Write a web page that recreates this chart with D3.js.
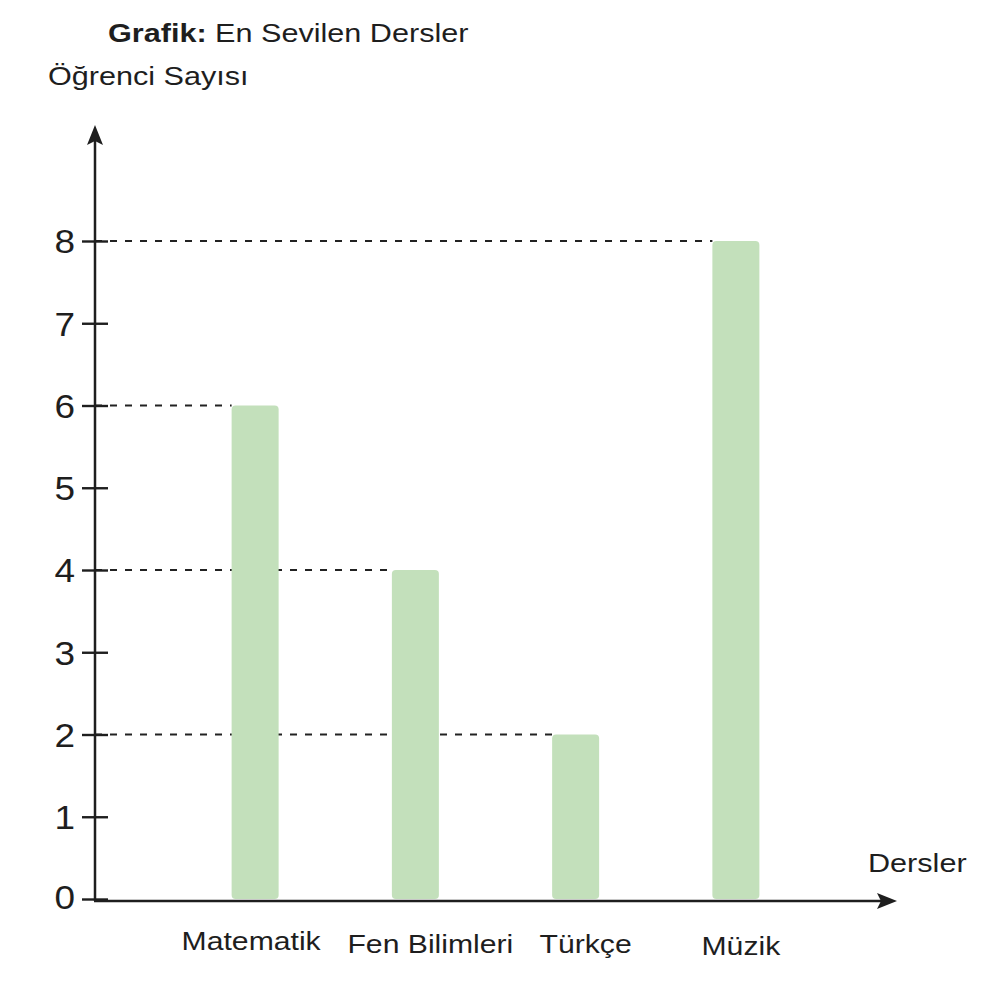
<!DOCTYPE html>
<html>
<head>
<meta charset="utf-8">
<script src="https://cdn.jsdelivr.net/npm/d3@7"></script>
<style>
  body { margin: 0; background: #fff; }
  text { font-family: "Liberation Sans", Arial, sans-serif; fill: #1e1e1e; }
</style>
</head>
<body>
<svg id="chart" width="999" height="994"></svg>
<script>
// data
const categories = ["Matematik", "Fen Bilimleri", "Türkçe", "Müzik"];
const values = [6, 4, 2, 8];
const yTicks = [0, 1, 2, 3, 4, 5, 6, 7, 8];

const svg = d3.select("#chart");
const stretch = 1.2; // the picture is a little wider than normal type
// labels under the bars are not quite centred in the original
const labelShift = [-4, 15, 10, 5];
const labelBase = [950, 953, 953, 955];

const x = d3.scaleBand().domain(categories).range([175, 816]);
const y = d3.scaleLinear().domain([0, 8]).range([899, 241]);
const barW = 47;
const axisX = 95, axisY = 901;
const barLeft = i => x(categories[i]) + x.bandwidth() / 2 - barW / 2;

// dashed guides from the axis to each bar top
svg.append("g")
  .selectAll("line")
  .data(values)
  .join("line")
  .attr("x1", axisX)
  .attr("x2", (d, i) => barLeft(i))
  .attr("y1", d => y(d))
  .attr("y2", d => y(d))
  .attr("stroke", "#222")
  .attr("stroke-width", 2)
  .attr("stroke-dasharray", "7,8");

// bars
svg.append("g")
  .selectAll("rect")
  .data(values)
  .join("rect")
  .attr("x", (d, i) => barLeft(i))
  .attr("y", d => y(d))
  .attr("width", barW)
  .attr("height", d => y(0) - y(d))
  .attr("rx", 4)
  .attr("fill", "#c3e0bb");

// y axis ticks + labels
const yAxis = svg.append("g")
  .attr("transform", `translate(${axisX},0)`)
  .call(d3.axisLeft(y).tickValues(yTicks).tickFormat(d3.format("d")).tickSize(13));
yAxis.select(".domain").remove();
yAxis.selectAll(".tick line")
  .attr("x1", -13).attr("x2", 13)
  .attr("stroke", "#1e1e1e").attr("stroke-width", 2.4);
yAxis.selectAll(".tick text")
  .attr("x", 0).attr("dy", null)
  .attr("dominant-baseline", "central")
  .attr("text-anchor", "end")
  .attr("transform", `translate(-20,0) scale(1.12,1)`)
  .style("font-size", "33px")
  .style("font-family", "'Liberation Sans', Arial, sans-serif")
  .attr("fill", "#1e1e1e");
yAxis.selectAll(".tick").filter(d => d === 0).select("text").attr("y", -2);

// axis lines with arrows
svg.append("line")
  .attr("x1", axisX).attr("y1", axisY).attr("x2", axisX).attr("y2", 140)
  .attr("stroke", "#1e1e1e").attr("stroke-width", 2.5);
svg.append("path")
  .attr("d", `M${axisX},125 L${axisX + 8},145 L${axisX},141 L${axisX - 8},145 Z`)
  .attr("fill", "#1e1e1e");
svg.append("line")
  .attr("x1", axisX - 1).attr("y1", axisY).attr("x2", 882).attr("y2", axisY)
  .attr("stroke", "#1e1e1e").attr("stroke-width", 2.5);
svg.append("path")
  .attr("d", `M897,${axisY} L877,${axisY - 8} L881,${axisY} L877,${axisY + 8} Z`)
  .attr("fill", "#1e1e1e");

// category labels
svg.append("g")
  .selectAll("text")
  .data(categories)
  .join("text")
  .attr("transform", (d, i) => `translate(${x(d) + x.bandwidth() / 2 + labelShift[i]},${labelBase[i]}) scale(1.16,1)`)
  .attr("text-anchor", "middle")
  .style("font-size", "26px")
  .text(d => d);

// titles
const title = svg.append("text")
  .attr("transform", `translate(108,42) scale(${stretch},1)`)
  .style("font-size", "25.5px");
title.append("tspan").attr("font-weight", "bold").text("Grafik:");
title.append("tspan").text(" En Sevilen Dersler");

svg.append("text")
  .attr("transform", `translate(48,85) scale(${stretch},1)`)
  .style("font-size", "25.5px")
  .text("Öğrenci Sayısı");

svg.append("text")
  .attr("transform", `translate(868,872) scale(${stretch},1)`)
  .style("font-size", "25.5px")
  .text("Dersler");
</script>
</body>
</html>
